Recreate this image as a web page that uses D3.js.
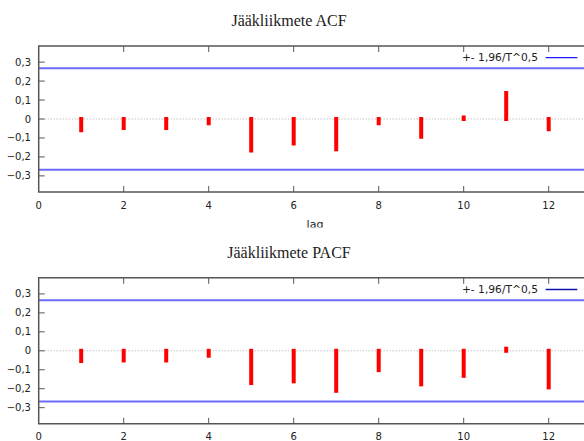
<!DOCTYPE html>
<html lang="fi">
<head>
<meta charset="utf-8">
<title>Jääkliikmete ACF / PACF</title>
<script src="https://cdn.jsdelivr.net/npm/d3@7"></script>
<style>
  body { margin: 0; background: #fff; }
  .tick-label { font-family: "DejaVu Sans", sans-serif; font-size: 10px; fill: #222; }
  .title { font-family: "Liberation Serif", "Times New Roman", serif; font-size: 16px; fill: #222; }
</style>
</head>
<body>
<div id="chart"></div>
<script>
// data
var lags = [1, 2, 3, 4, 5, 6, 7, 8, 9, 10, 11, 12];
var acf  = [-0.059, -0.047, -0.047, -0.022, -0.166, -0.129, -0.159, -0.022, -0.094, 0.008, 0.137, -0.054];
var pacf = [-0.054, -0.051, -0.051, -0.026, -0.170, -0.161, -0.211, -0.102, -0.177, -0.132, 0.011, -0.193];
var bound = 0.267;            // +- 1,96/T^0,5
var xTicks = [0, 2, 4, 6, 8, 10, 12];
var yTicks = [0.3, 0.2, 0.1, 0, -0.1, -0.2, -0.3];
var titles = ["Jääkliikmete ACF", "Jääkliikmete PACF"];
var legendText = "+- 1,96/T^0,5";

var W = 584, H = 441;
var svg = d3.select("#chart").append("svg")
  .attr("width", W).attr("height", H);

var fmt = function(d) { return d === 0 ? "0" : d3.format(".1f")(d).replace(".", ","); };

function panel(top, title, values, clipBottom, legendCol) {
  var g = svg.append("g");
  if (clipBottom) {
    var id = "clip" + Math.round(top);
    svg.append("defs").append("clipPath").attr("id", id)
      .append("rect").attr("x", 0).attr("y", 0).attr("width", W).attr("height", clipBottom);
    g.attr("clip-path", "url(#" + id + ")");
  }

  var x = d3.scaleLinear().domain([0, 13]).range([38.7, 591.2]);
  var y = d3.scaleLinear().domain([-0.385, 0.385]).range([top + 146, top]);

  g.append("text").attr("class", "title")
    .attr("x", 289).attr("y", top - 20)
    .attr("text-anchor", "middle").text(title);

  // zero line
  g.append("line")
    .attr("x1", x(0)).attr("x2", W)
    .attr("y1", y(0)).attr("y2", y(0))
    .attr("stroke", "#aaa").attr("stroke-width", 1)
    .attr("stroke-dasharray", "1,2");

  // confidence bounds
  [bound, -bound].forEach(function(b) {
    g.append("line")
      .attr("x1", x(0)).attr("x2", W)
      .attr("y1", y(b)).attr("y2", y(b))
      .attr("stroke", "#6b6bff").attr("stroke-width", 2);
  });

  // impulses
  g.selectAll("line.bar").data(lags).enter().append("line")
    .attr("class", "bar")
    .attr("x1", function(d) { return x(d); })
    .attr("x2", function(d) { return x(d); })
    .attr("y1", y(0))
    .attr("y2", function(d, i) { return y(values[i]); })
    .attr("stroke", "#ff0000").attr("stroke-width", 4)
    .attr("stroke-linecap", "square");

  // frame
  var frameCol = "#555";
  g.append("path")
    .attr("d", "M" + x(13) + "," + y(0.385) + "H" + x(0) + "V" + y(-0.385) + "H" + x(13))
    .attr("fill", "none").attr("stroke", frameCol).attr("stroke-width", 1.5);

  // x ticks (bottom and top, inward)
  xTicks.filter(function(d) { return d > 0; }).forEach(function(d) {
    g.append("line").attr("x1", x(d)).attr("x2", x(d))
      .attr("y1", y(-0.385)).attr("y2", y(-0.385) - 6)
      .attr("stroke", frameCol).attr("stroke-width", 1);
    g.append("line").attr("x1", x(d)).attr("x2", x(d))
      .attr("y1", y(0.385)).attr("y2", y(0.385) + 6)
      .attr("stroke", frameCol).attr("stroke-width", 1);
  });
  g.selectAll("text.xl").data(xTicks).enter().append("text")
    .attr("class", "tick-label")
    .attr("x", function(d) { return x(d); })
    .attr("y", y(-0.385) + 16.5)
    .attr("text-anchor", "middle")
    .text(function(d) { return d; });

  // y ticks
  yTicks.forEach(function(d) {
    g.append("line").attr("x1", x(0)).attr("x2", x(0) + 6)
      .attr("y1", y(d)).attr("y2", y(d))
      .attr("stroke", frameCol).attr("stroke-width", 1);
  });
  g.selectAll("text.yl").data(yTicks).enter().append("text")
    .attr("class", "tick-label")
    .attr("x", 31)
    .attr("y", function(d) { return y(d); })
    .attr("dy", "0.35em")
    .attr("text-anchor", "end")
    .text(fmt);

  // axis label (only the upper panel shows it, cut by the crop)
  if (clipBottom) {
    g.append("text").attr("class", "tick-label")
      .attr("x", 315).attr("y", y(-0.385) + 36)
      .attr("text-anchor", "middle")
      .style("font-size", "11px")
      .text("lag");
  }

  // legend
  var ly = top + 11.7;
  g.append("text").attr("class", "tick-label")
    .attr("x", 538).attr("y", ly).attr("dy", "0.35em")
    .attr("text-anchor", "end")
    .style("font-size", "10.7px")
    .text(legendText);
  g.append("line")
    .attr("x1", 545.7).attr("x2", 577.3)
    .attr("y1", ly).attr("y2", ly)
    .attr("stroke", legendCol).attr("stroke-width", 1.3);
}

panel(46, titles[0], acf, 227.5, "#1a1aff");
panel(277.8, titles[1], pacf, null, "#1010b0");
</script>
</body>
</html>
